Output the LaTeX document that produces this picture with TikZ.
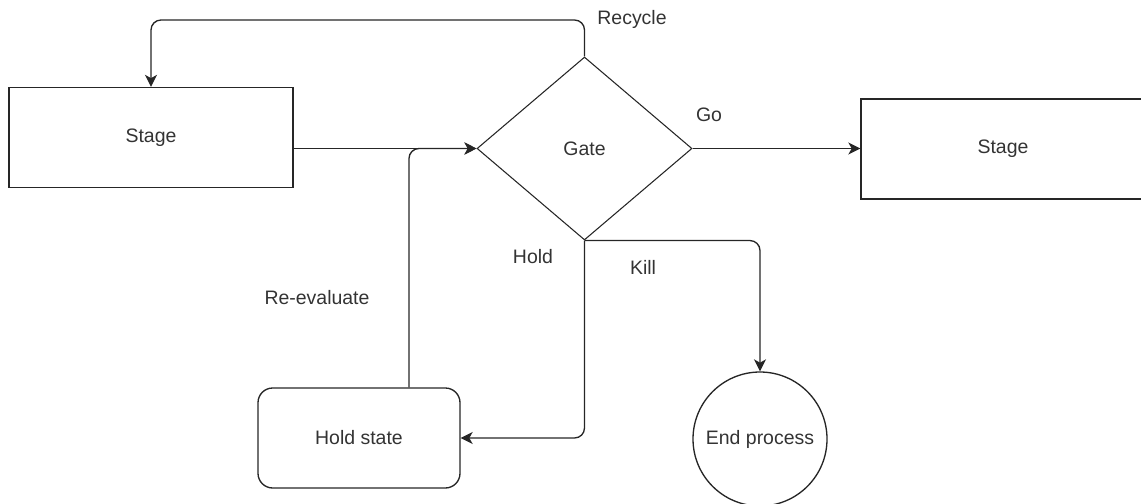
\documentclass[tikz,border=0pt]{standalone}
\usepackage{fontspec}
\setmainfont{Liberation Sans}
\usetikzlibrary{arrows.meta,shapes.geometric}
\begin{document}
\begin{tikzpicture}[x=0.75pt,y=-0.75pt,
  every node/.style={font=\fontsize{14.6pt}{17pt}\selectfont, text=black!80},
  stagebox/.style={draw=black!85, line width=1pt, minimum width=213pt, minimum height=75pt, inner sep=0pt},
  gatebox/.style={draw=black!85, line width=0.8pt, shape=diamond, minimum width=161.25pt, minimum height=137.25pt, inner sep=0pt},
  holdbox/.style={draw=black!85, line width=1pt, rounded corners=11pt, minimum width=151.5pt, minimum height=75pt, inner sep=0pt},
  endbox/.style={draw=black!85, line width=1pt, circle, minimum size=100.5pt, inner sep=0pt},
  lbl/.style={inner sep=0pt},
  arr/.style={draw=black!85, line width=1pt, rounded corners=7.5pt, -{Stealth[length=9pt,width=9pt,inset=2.5pt]}},
]
\useasboundingbox (0,0) rectangle (1141,503);
\node[stagebox] (s1) at (151,137.5) {Stage};
\node[stagebox] (s2) at (1003,149) {Stage};
\node[gatebox] (gate) at (584.5,148.5) {Gate};
\node[holdbox] (hold) at (359,438) {Hold state};
\node[endbox] (end) at (760,439) {End process};
\coordinate (rc) at (150,20);
\coordinate (re) at ([xshift=37.5pt]hold.north);
% connectors
\draw[arr] (gate.north) -- (gate.north |- rc) -| (s1.north);
\draw[arr, rounded corners=0pt] (s1.east |- gate.west) -- (gate.west);
\draw[arr] (gate.east) -- (s2.west |- gate.east);
\draw[arr] (gate.south) -| (end.north);
\draw[arr] (gate.south) |- (hold.east);
\draw[arr] (re) |- (gate.west);
% labels
\node[lbl] (lrec) at (632,19) {Recycle};
\node[lbl] (lgo) at (709,115) {Go};
\node[lbl] (lhold) at (533,257) {Hold};
\node[lbl] (lkill) at (643,267) {Kill};
\node[lbl] (lre) at (317,298) {Re-evaluate};
\end{tikzpicture}
\end{document}
